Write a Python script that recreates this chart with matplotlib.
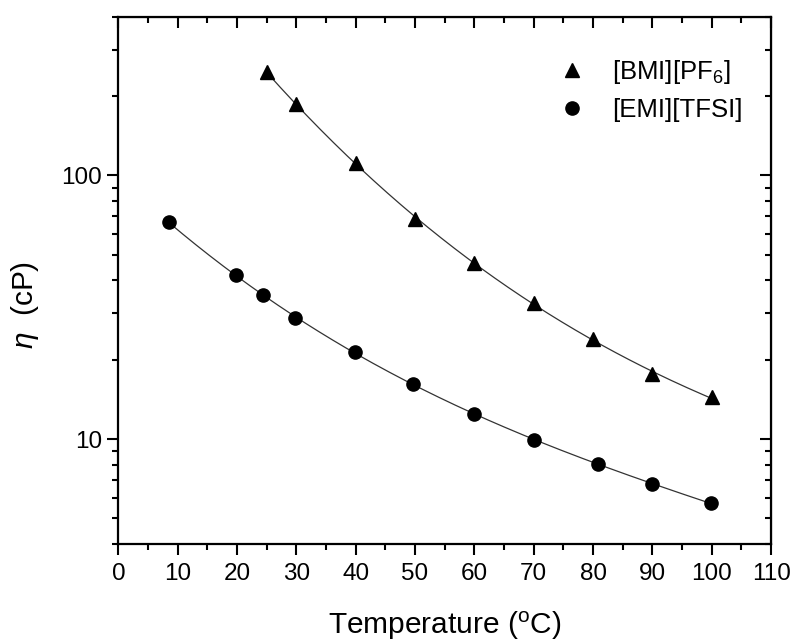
import numpy as np
import matplotlib
matplotlib.use('Agg')
import matplotlib.pyplot as plt

# Datos
temp_bmi = [25, 30, 40, 50, 60, 70, 80, 90, 100]
visc_bmi = [246, 186, 111, 68.5, 46.7, 32.7, 24.0, 17.6, 14.4]

temp_emi = [8.5, 19.8, 24.4, 29.7, 39.9, 49.7, 59.9, 70.0, 80.8, 89.9, 99.9]
visc_emi = [66.4, 42.0, 35.1, 28.8, 21.3, 16.2, 12.5, 9.94, 8.04, 6.76, 5.71]

plt.rcParams['font.family'] = ['Liberation Sans', 'DejaVu Sans']
plt.rcParams['mathtext.fontset'] = 'custom'
plt.rcParams['mathtext.rm'] = 'Liberation Sans'
plt.rcParams['mathtext.it'] = 'Liberation Sans:italic'


def ajuste(x, y):
    # curva suave: polinomio sobre log10(viscosidad)
    x = np.asarray(x, float)
    c = np.polyfit(x, np.log10(y), 3)
    xx = np.linspace(x.min(), x.max(), 200)
    return xx, 10 ** np.polyval(c, xx)


fig = plt.figure(figsize=(7.98, 6.43), dpi=100)
ax = fig.add_axes([0.1483, 0.154, 0.818, 0.820])

for t, v in [(temp_bmi, visc_bmi), (temp_emi, visc_emi)]:
    xx, yy = ajuste(t, v)
    ax.plot(xx, yy, color='#333333', lw=0.9, zorder=2)

ax.plot(temp_bmi, visc_bmi, '^', color='black', ms=10, ls='none',
        label='[BMI][PF$_6$]', zorder=3)
ax.plot(temp_emi, visc_emi, 'o', color='black', ms=9.5, ls='none',
        label='[EMI][TFSI]', zorder=3)

ax.set_yscale('log')
ax.set_xlim(0, 110)
ax.set_ylim(4, 400)
ax.set_xticks(range(0, 111, 10))
ax.set_xticks(range(5, 110, 10), minor=True)
ax.yaxis.set_major_formatter(matplotlib.ticker.FuncFormatter(lambda v, p: '%g' % v))
ax.yaxis.set_minor_formatter(matplotlib.ticker.NullFormatter())

for s in ax.spines.values():
    s.set_linewidth(1.6)
ax.tick_params(which='major', direction='out', length=8, width=1.5, labelsize=17.5,
               top=False, right=False)
ax.tick_params(axis='x', which='major', pad=6)
ax.tick_params(which='minor', direction='out', length=4.5, width=1.5,
               top=False, right=False)

# ejes espejo con marcas hacia dentro
top = ax.secondary_xaxis('top')
top.set_xticks(range(0, 111, 10))
top.set_xticks(range(5, 110, 10), minor=True)
top.tick_params(which='major', direction='in', length=8, width=1.5, labeltop=False)
top.tick_params(which='minor', direction='in', length=4.5, width=1.5)
right = ax.secondary_yaxis('right')
right.tick_params(which='major', direction='in', length=8, width=1.5, labelright=False)
right.tick_params(which='minor', direction='in', length=4.5, width=1.5)
right.yaxis.set_minor_formatter(matplotlib.ticker.NullFormatter())

ax.set_xlabel('Temperature ($^{\\rm o}$C)', fontsize=21.5)
ax.xaxis.set_label_coords(0.5, -0.125)
ax.set_ylabel('$\\eta$  (cP)', fontsize=21.5)
ax.yaxis.set_label_coords(-0.118, 0.453)

ax.legend(loc='upper right', frameon=False, fontsize=18.5, handletextpad=0.55,
          borderaxespad=0.6, labelspacing=0.45, bbox_to_anchor=(0.995, 0.97))

fig.savefig('out.png', dpi=100)
